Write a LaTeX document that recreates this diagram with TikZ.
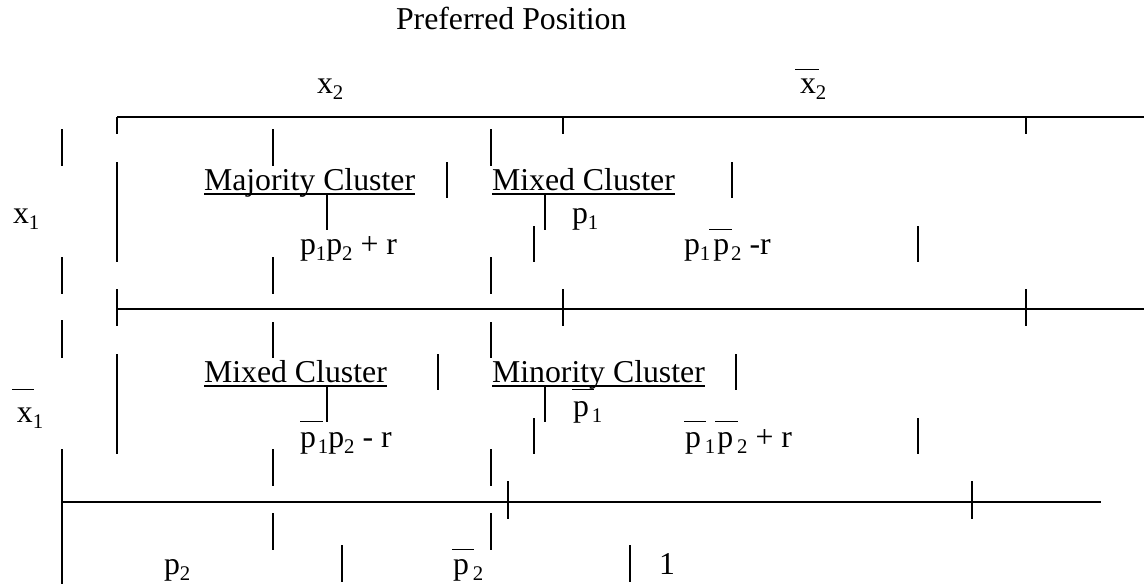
\documentclass[tikz,border=0pt]{standalone}
\usepackage{fontspec}
\setmainfont{Liberation Serif}
\newcommand\mainsz{\fontsize{15.9pt}{19pt}\selectfont}
\newcommand\sbs[1]{\raisebox{-3pt}{\fontsize{10.4pt}{12pt}\selectfont #1}}
\begin{document}
\begin{tikzpicture}[x=0.5pt,y=-0.5pt,line width=0.8pt,
  txt/.style={anchor=base west,inner sep=0pt,outer sep=0pt,font=\mainsz},
  bar/.style={line width=0.5pt},
  uline/.style={line width=0.65pt}]
\useasboundingbox (0,0) rectangle (1144,584);

% titles and axis labels
\node[txt] (title) at (396,29) {Preferred Position};
\node[txt] (lx2) at (317,93) {x\sbs{2}};
\node[txt] (lnx2) at (800,93) {x\sbs{2}};
\draw[bar] (795,69) -- (819,69);
\node[txt] (lx1) at (13,223) {x\sbs{1}};
\node[txt] (lnx1) at (17,422) {x\sbs{1}};
\draw[bar] (12,389) -- (34,389);

% horizontal rules
\draw (117,117) -- (1144,117);
\draw (117,309) -- (1144,309);
\draw (62,502) -- (1101,502);

% ticks on the rules
\foreach \x in {117,563,1026} {\draw (\x,117) -- (\x,134);}
\foreach \x in {117,563,1026} {\draw (\x,289) -- (\x,326);}
\foreach \x in {508,972} {\draw (\x,481) -- (\x,519);}

% vertical pieces
\draw (62,129) -- (62,166);
\draw (62,257) -- (62,294);
\draw (62,320) -- (62,358);
\draw (62,449) -- (62,584);
\draw (117,162) -- (117,262);
\draw (117,354) -- (117,454);
\foreach \x in {273,491} {
  \draw (\x,129) -- (\x,166);
  \draw (\x,257) -- (\x,294);
  \draw (\x,322) -- (\x,358);
  \draw (\x,449) -- (\x,486);
  \draw (\x,513) -- (\x,550);
}
\draw (327,195) -- (327,230);
\draw (327,387) -- (327,422);
\draw (447,162) -- (447,198);
\draw (438,354) -- (438,390);
\draw (534,226) -- (534,262);
\draw (534,418) -- (534,454);
\draw (545,195) -- (545,230);
\draw (545,387) -- (545,422);
\draw (732,162) -- (732,198);
\draw (736,354) -- (736,390);
\draw (918,226) -- (918,262);
\draw (918,418) -- (918,454);
\draw (342,545) -- (342,582);
\draw (630,545) -- (630,582);

% row 1
\node[txt] (maj) at (204,190) {Majority Cluster};
\draw[uline] ([yshift=-2pt]maj.base west) -- ([yshift=-2pt]maj.base east);
\node[txt] (mix1) at (492,190) {Mixed Cluster};
\draw[uline] ([yshift=-2pt]mix1.base west) -- ([yshift=-2pt]mix1.base east);
\node[txt] (f11) at (300,254) {p\sbs{1}p\sbs{2} + r};
\node[txt] (p1a) at (572,223) {p\sbs{1}};
\node[txt] (f12) at (684,254) {p\sbs{1}\hspace{1.5pt}p\hspace{1pt}\sbs{2} -r};
\draw[bar] (709,229) -- (732,229);

% row 2
\node[txt] (mix2) at (204,382) {Mixed Cluster};
\draw[uline] ([yshift=-2pt]mix2.base west) -- ([yshift=-2pt]mix2.base east);
\node[txt] (mino) at (492,382) {Minority Cluster};
\draw[uline] ([yshift=-2pt]mino.base west) -- ([yshift=-2pt]mino.base east);
\node[txt] (f21) at (300,447) {p\hspace{1pt}\sbs{1}p\sbs{2} - r};
\draw[bar] (300,421) -- (323,421);
\node[txt] (p1b) at (573,416) {p\hspace{1.5pt}\sbs{1}};
\draw[bar] (572,389) -- (594,389);
\node[txt] (f22) at (685,447) {p\hspace{2pt}\sbs{1}\hspace{1pt}p\hspace{2pt}\sbs{2} + r};
\draw[bar] (684,421) -- (706,421);
\draw[bar] (715,421) -- (738,421);

% bottom labels
\node[txt] (bp2) at (164,574) {p\sbs{2}};
\node[txt] (bnp2) at (453,574) {p\hspace{2pt}\sbs{2}};
\draw[bar] (452,549) -- (474,549);
\node[txt] (one) at (659,574) {1};
\end{tikzpicture}
\end{document}
